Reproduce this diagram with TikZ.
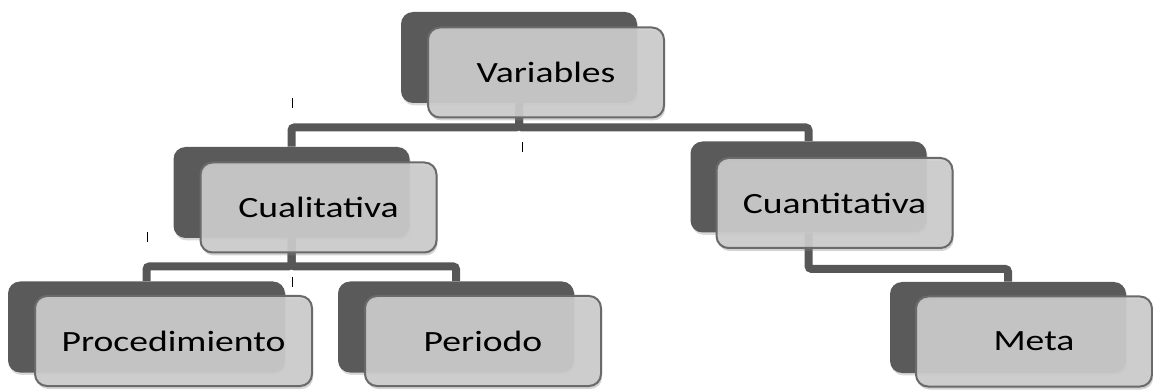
\documentclass[tikz,border=0pt]{standalone}
\usepackage{fontspec}
\usetikzlibrary{shadows}
\newfontfamily\boxfont[FakeStretch=1.28]{Carlito}
\definecolor{backgray}{HTML}{5A5A5A}
\definecolor{frontgray}{HTML}{CDCDCD}
\definecolor{edgegray}{HTML}{6A6A6A}
\definecolor{linkgray}{HTML}{575757}
\tikzset{
  backbox/.style={rounded corners=6pt,fill=backgray,minimum width=118pt,minimum height=45.5pt,
    drop shadow={shadow xshift=0.6pt,shadow yshift=-1.2pt,opacity=0.3}},
  frontbox/.style={rounded corners=6pt,fill=frontgray,fill opacity=0.9,text opacity=1,draw=edgegray,line width=1pt,
    minimum width=118pt,minimum height=45pt,font=\boxfont\fontsize{14.7}{16}\selectfont,
    drop shadow={shadow xshift=0.6pt,shadow yshift=-1.5pt,opacity=0.35}},
  link/.style={draw=linkgray,line width=4pt,rounded corners=1.5pt}
}
\begin{document}
\begin{tikzpicture}[x=0.5pt,y=-0.5pt]
  \useasboundingbox (0,0) rectangle (1153,390);
  \node[backbox] (var-b) at (519,57.5) {};
  \node[backbox] (cual-b) at (291.5,192.5) {};
  \node[backbox] (cuan-b) at (808.5,187) {};
  \node[backbox,minimum width=138.5pt] (proc-b) at (146.5,327) {};
  \node[backbox] (per-b) at (456,327) {};
  \node[backbox] (meta-b) at (1008,327.5) {};
  \draw[link] (var-b.south) -- ++(0,24) -| (cual-b.north);
  \draw[link] (var-b.south) -- ++(0,24) -| (cuan-b.north);
  \draw[link] (cual-b.south) -- ++(0,28) -| (proc-b.north);
  \draw[link] (cual-b.south) -- ++(0,28) -| (per-b.north);
  \draw[link] (cuan-b.south) -- ++(0,36) -| (meta-b.north);
  \node[frontbox] (var) at ([shift={(27,15)}]var-b.center) {Variables};
  \node[frontbox] (cual) at ([shift={(27,15)}]cual-b.center) {Cualitativa};
  \node[frontbox] (cuan) at ([shift={(26,16)}]cuan-b.center) {Cuantitativa};
  \node[frontbox,minimum width=138.5pt] (proc) at ([shift={(27,14)}]proc-b.center) {Procedimiento};
  \node[frontbox] (per) at ([shift={(27,14)}]per-b.center) {Periodo};
  \node[frontbox] (meta) at ([shift={(26,14)}]meta-b.center) {Meta};
  \foreach \x/\y in {292/103,522/147,147/237,292/282}{\draw[black,line width=0.4pt] (\x,\y-5)--(\x,\y+5);}
\end{tikzpicture}
\end{document}
